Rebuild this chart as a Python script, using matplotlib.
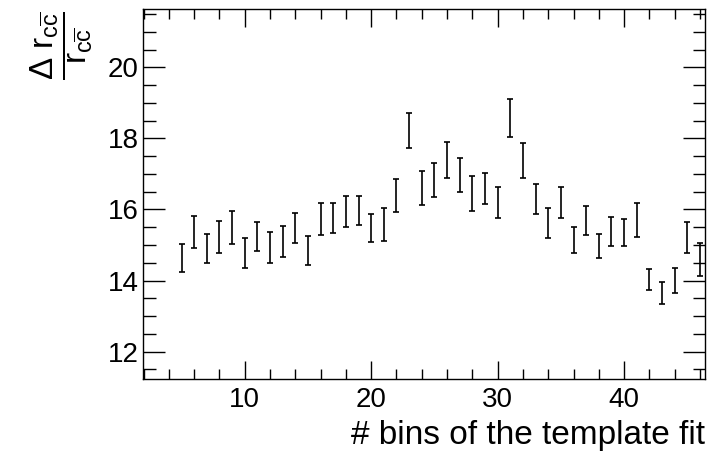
import matplotlib
matplotlib.use("Agg")
import matplotlib.pyplot as plt
from matplotlib.ticker import MultipleLocator

plt.rcParams['font.family'] = ['Liberation Sans', 'DejaVu Sans']
plt.rcParams['mathtext.fontset'] = 'custom'
plt.rcParams['mathtext.rm'] = 'Liberation Sans'
plt.rcParams['mathtext.it'] = 'Liberation Sans'
plt.rcParams['mathtext.bf'] = 'Liberation Sans:bold'

# number of bins in the template fit
n_bins = list(range(5, 47))

# relative uncertainty and its error bar half-width
rel_unc = [14.64, 15.37, 14.91, 15.22, 15.49, 14.78, 15.25, 14.92, 15.10, 15.49,
           14.85, 15.73, 15.76, 15.95, 15.97, 15.47, 15.57, 16.40, 18.21, 16.61,
           16.83, 17.40, 16.97, 16.44, 16.58, 16.19, 18.57, 17.38, 16.29, 15.62,
           16.19, 15.14, 15.69, 14.98, 15.38, 15.35, 15.71, 14.03, 13.65, 14.01,
           15.22, 14.59]
rel_err = [0.39, 0.45, 0.41, 0.45, 0.46, 0.43, 0.41, 0.44, 0.44, 0.42,
           0.40, 0.44, 0.41, 0.44, 0.41, 0.39, 0.46, 0.46, 0.49, 0.48,
           0.47, 0.51, 0.49, 0.49, 0.44, 0.44, 0.53, 0.50, 0.42, 0.43,
           0.44, 0.37, 0.40, 0.34, 0.40, 0.38, 0.48, 0.30, 0.32, 0.35,
           0.44, 0.46]

fig = plt.figure(figsize=(7.17, 4.54), dpi=100)
ax = fig.add_axes([0.1994, 0.1652, 0.7839, 0.8150])

ax.errorbar(n_bins, rel_unc, yerr=rel_err, fmt='none', ecolor='black',
            elinewidth=1.2, capsize=2, capthick=1.2)

ax.set_xlim(1.95, 46.4)
ax.set_ylim(11.23, 21.64)

ax.xaxis.set_major_locator(MultipleLocator(10))
ax.xaxis.set_minor_locator(MultipleLocator(2))
ax.yaxis.set_major_locator(MultipleLocator(2))
ax.yaxis.set_minor_locator(MultipleLocator(0.5))

ax.tick_params(axis='both', which='both', direction='in', top=True, right=True,
               labelsize=20, width=1, color='black')
ax.tick_params(axis='x', which='major', length=13, pad=6)
ax.tick_params(axis='x', which='minor', length=7)
ax.tick_params(axis='y', which='major', length=16, pad=3)
ax.tick_params(axis='y', which='minor', length=9)
for s in ax.spines.values():
    s.set_linewidth(1)

ax.set_xlabel('# bins of the template fit', fontsize=24, loc='right', labelpad=5)
ax.set_ylabel(r'$\dfrac{\Delta\ r_{c\overline{c}}}{r_{c\overline{c}}}$', fontsize=24, loc='top')
ax.yaxis.set_label_coords(-0.086, 0.995)

fig.savefig('out.png', dpi=100)
